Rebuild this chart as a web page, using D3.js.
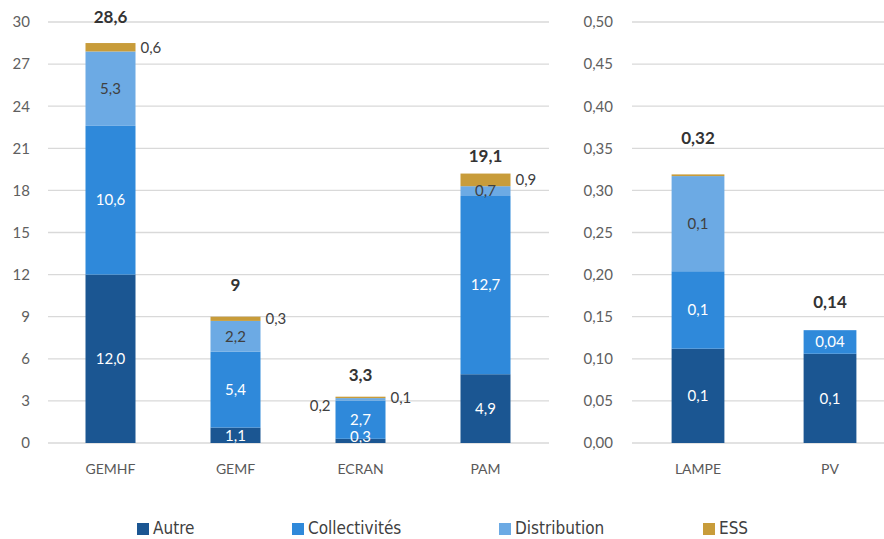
<!DOCTYPE html>
<html>
<head>
<meta charset="utf-8">
<script src="https://cdn.jsdelivr.net/npm/d3@7"></script>
<style>
  body { margin: 0; background: #fff; }
  svg { font-family: "Lato", "Open Sans", sans-serif; }
</style>
</head>
<body>
<svg id="chart" width="884" height="539"></svg>
<script>
// series order, bottom to top
const series = ["Autre", "Collectivités", "Distribution", "ESS"];
const colors = ["#1b5692", "#2f89da", "#6caae4", "#c89c3a"];

// left panel
const leftCats = ["GEMHF", "GEMF", "ECRAN", "PAM"];
const leftAutre = [12.0, 1.1, 0.3, 4.9];
const leftColl = [10.6, 5.4, 2.7, 12.7];
const leftDist = [5.3, 2.2, 0.2, 0.7];
const leftEss = [0.6, 0.3, 0.1, 0.9];
const leftTotals = ["28,6", "9", "3,3", "19,1"];
const leftTicks = [0, 3, 6, 9, 12, 15, 18, 21, 24, 27, 30];

// right panel
const rightCats = ["LAMPE", "PV"];
const rightAutre = [0.112, 0.106];
const rightColl = [0.092, 0.028];
const rightDist = [0.113, 0];
const rightEss = [0.002, 0];
const rightLabels = [["0,1", "0,1", "0,1", ""], ["0,1", "0,04", "", ""]];
const rightTotals = ["0,32", "0,14"];
const rightTicks = [0, 0.05, 0.1, 0.15, 0.2, 0.25, 0.3, 0.35, 0.4, 0.45, 0.5];

const svg = d3.select("#chart");
const fmt1 = d => d3.format(".1f")(d).replace(".", ",");

function panel(opts) {
  const { cats, cols, x0, x1, yMax, ticks, tickFmt, tickX, labels, outside, totals } = opts;
  const y = d3.scaleLinear().domain([0, yMax]).range([443, 22]);
  const x = d3.scaleBand().domain(cats).range([x0, x1]).paddingInner(0.6).paddingOuter(0.3);

  const g = svg.append("g");

  // gridlines
  g.selectAll("line.grid").data(ticks).enter().append("line")
    .attr("x1", opts.gx0).attr("x2", opts.gx1)
    .attr("y1", d => y(d)).attr("y2", d => y(d))
    .attr("stroke", "#d9d9d9").attr("stroke-width", 1.3);

  // y axis labels
  const ax = g.append("g").attr("transform", `translate(${tickX},0)`)
    .call(d3.axisLeft(y).tickValues(ticks).tickSize(0).tickPadding(0).tickFormat(tickFmt));
  ax.select(".domain").remove();
  ax.selectAll("text").attr("fill", "#606060").style("font-size", "15px")
    .style("font-family", "Lato, sans-serif");

  // stacked data
  const rows = cats.map((c, i) => {
    const r = { cat: c };
    series.forEach((s, j) => r[s] = cols[j][i]);
    return r;
  });
  const stacked = d3.stack().keys(series)(rows);

  stacked.forEach((layer, j) => {
    g.selectAll(null).data(layer).enter().append("rect")
      .attr("x", d => x(d.data.cat))
      .attr("width", x.bandwidth())
      .attr("y", d => y(d[1]))
      .attr("height", d => Math.max(0, y(d[0]) - y(d[1])))
      .attr("fill", colors[j]);
  });

  // segment labels
  stacked.forEach((layer, j) => {
    layer.forEach((d, i) => {
      const txt = labels(i, j);
      if (!txt) return;
      const o = outside(i, j);
      let tx = x(d.data.cat) + x.bandwidth() / 2, anchor = "middle";
      let ty = y((d[0] + d[1]) / 2);
      let fill = j < 2 ? "#ffffff" : "#404040";
      if (o === "right") { tx = x(d.data.cat) + x.bandwidth() + 5; anchor = "start"; fill = "#404040"; }
      if (o === "left") { tx = x(d.data.cat) - 5; anchor = "end"; fill = "#404040"; ty += 6; }
      if (o === "low") { ty = y(0) - 6; }
      g.append("text").attr("x", tx).attr("y", ty).attr("dy", "0.35em")
        .attr("text-anchor", anchor).attr("fill", fill)
        .style("font-size", "15px").text(txt);
    });
  });

  // totals
  rows.forEach((r, i) => {
    const top = d3.sum(series, s => r[s]);
    g.append("text").attr("x", x(r.cat) + x.bandwidth() / 2).attr("y", y(top) - opts.totalGap[i])
      .attr("text-anchor", "middle").attr("fill", "#333").style("font-weight", "bold")
      .style("font-size", "17px").text(totals[i]);
  });

  // category labels
  g.selectAll(null).data(cats).enter().append("text")
    .attr("x", d => x(d) + x.bandwidth() / 2).attr("y", 474)
    .attr("text-anchor", "middle").attr("fill", "#595959")
    .style("font-size", "14px").text(d => d);
}

panel({
  cats: leftCats,
  cols: [leftAutre, leftColl, leftDist, leftEss],
  x0: 48, x1: 548, gx0: 48, gx1: 549,
  yMax: 30, ticks: leftTicks, tickFmt: d => d, tickX: 30,
  labels: (i, j) => fmt1([leftAutre, leftColl, leftDist, leftEss][j][i]),
  outside: (i, j) => {
    if (j === 3) return "right";
    if (i === 2 && j === 2) return "left";
    if (i === 2 && j === 0) return "low";
    return null;
  },
  totals: leftTotals,
  totalGap: [20, 26, 16, 12]
});

panel({
  cats: rightCats,
  cols: [rightAutre, rightColl, rightDist, rightEss],
  x0: 632, x1: 896, gx0: 632, gx1: 884,
  yMax: 0.5, ticks: rightTicks, tickFmt: d => d3.format(".2f")(d).replace(".", ","), tickX: 613,
  labels: (i, j) => rightLabels[i][j],
  outside: () => null,
  totals: rightTotals,
  totalGap: [30, 22]
});

// legend
const legX = [137, 292, 499, 703];
const leg = svg.append("g");
series.forEach((s, i) => {
  leg.append("rect").attr("x", legX[i]).attr("y", 523).attr("width", 12).attr("height", 12).attr("fill", colors[i]);
  leg.append("text").attr("x", legX[i] + 16).attr("y", 534)
    .attr("fill", "#404040")
    .style("font-family", "'DejaVu Sans', sans-serif")
    .style("font-stretch", "condensed")
    .style("font-size", "17px").text(s);
});
</script>
</body>
</html>
